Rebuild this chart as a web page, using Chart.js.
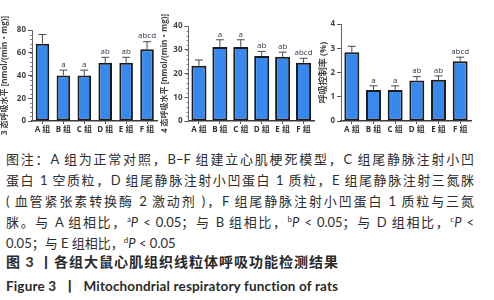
<!DOCTYPE html>
<html><head><meta charset="utf-8">
<script src="https://cdn.jsdelivr.net/npm/chart.js@4.4.1/dist/chart.umd.min.js"></script>
<style>
html,body{margin:0;padding:0;background:#fff;width:494px;height:300px;overflow:hidden;}
canvas{position:absolute;top:0;}
.cap{position:absolute;left:6px;width:468px;font-family:"Lato","Noto Sans CJK SC",sans-serif;color:#2e2e2e;font-size:13px;line-height:21px;}
.cap div{white-space:nowrap;}
.j{text-align:justify;text-align-last:justify;}
.t{position:absolute;left:6px;font-family:"Lato","Noto Sans CJK SC",sans-serif;color:#2a2a2a;font-weight:bold;white-space:nowrap;}
sup{font-size:8px;line-height:0;vertical-align:5px;}
</style></head><body>
<canvas id="c1" width="160" height="140" style="left:0px"></canvas>
<canvas id="c2" width="158" height="140" style="left:160px"></canvas>
<canvas id="c3" width="176" height="140" style="left:318px"></canvas>
<div class="cap" style="top:149px">
<div class="j">图注：A 组为正常对照，B−F 组建立心肌梗死模型，C 组尾静脉注射小凹</div>
<div class="j">蛋白 1 空质粒，D 组尾静脉注射小凹蛋白 1 质粒，E 组尾静脉注射三氮脒</div>
<div class="j">( 血管紧张素转换酶 2 激动剂 )，F 组尾静脉注射小凹蛋白 1 质粒与三氮</div>
<div class="j">脒。与 A 组相比，<sup>a</sup><i>P</i> &lt; 0.05；与 B 组相比，<sup>b</sup><i>P</i> &lt; 0.05；与 D 组相比，<sup>c</sup><i>P</i> &lt;</div>
<div>0.05；与 E 组相比，<sup>d</sup><i>P</i> &lt; 0.05</div>
</div>
<div class="t" style="top:252px;font-size:14px;line-height:20px;letter-spacing:1px">图 3 丨各组大鼠心肌组织线粒体呼吸功能检测结果</div>
<div class="t" style="top:276px;font-size:13.5px;line-height:20px;letter-spacing:0.15px">Figure 3 &nbsp;丨 &nbsp;Mitochondrial respiratory function of rats</div>
<script>
const categories = ['A 组','B 组','C 组','D 组','E 组','F 组'];
const state3 = [68, 40, 40, 51.2, 51.2, 63];
const state3Err = [8, 4.7, 4.7, 4.8, 4.8, 6.7];
const state4 = [23.3, 31.2, 31.2, 27.4, 27.1, 24.5];
const state4Err = [2.4, 3.0, 3.0, 1.9, 1.9, 1.9];
const rcr = [2.83, 1.28, 1.28, 1.67, 1.70, 2.46];
const rcrErr = [0.25, 0.17, 0.17, 0.16, 0.16, 0.17];
const sigLabels = ['', 'a', 'a', 'ab', 'ab', 'abcd'];
const yTitles = ['3 态呼吸水平 [nmol/(min・mg)]', '4 态呼吸水平 [nmol/(min・mg)]', '呼吸控制率 (%)'];

const errPlugin = {
  id: 'errbars',
  afterDatasetsDraw(chart, args, opts) {
    const ctx = chart.ctx, y = chart.scales.y;
    const meta = chart.getDatasetMeta(0);
    ctx.save();
    meta.data.forEach((bar, i) => {
      const v = opts.values[i], e = opts.errs[i];
      const py0 = y.getPixelForValue(v), py1 = y.getPixelForValue(v + e);
      ctx.strokeStyle = '#4a4a4a'; ctx.lineWidth = 1;
      ctx.beginPath();
      ctx.moveTo(bar.x, py0); ctx.lineTo(bar.x, py1);
      ctx.moveTo(bar.x - 4, py1); ctx.lineTo(bar.x + 4, py1);
      ctx.stroke();
      if (opts.labels[i]) {
        ctx.fillStyle = '#2f3b4f';
        ctx.font = '8px "Open Sans", sans-serif';
        ctx.textAlign = 'center'; ctx.textBaseline = 'bottom';
        ctx.fillText(opts.labels[i], bar.x, py1 - 1.5);
      }
    });
    if (opts.minor) {
      ctx.strokeStyle = '#666'; ctx.lineWidth = 0.8;
      const left = chart.chartArea.left;
      for (let t = 0; t <= y.max + 1e-9; t += opts.minor) {
        const py = Math.round(y.getPixelForValue(t)) + 0.5;
        ctx.beginPath(); ctx.moveTo(left - 2, py); ctx.lineTo(left, py); ctx.stroke();
      }
    }
    ctx.restore();
  }
};

function makeChart(id, values, errs, title, titleSize, max, step, minor, yWidth, topPad, rightPad, barPct) {
  return new Chart(document.getElementById(id), {
    type: 'bar',
    data: { labels: categories, datasets: [{ data: values, backgroundColor: '#3789f0', borderColor: '#1c1c1c', borderWidth: 2, borderSkipped: false, barPercentage: barPct, categoryPercentage: 1 }] },
    options: {
      responsive: false, animation: false, devicePixelRatio: 1,
      layout: { padding: { top: topPad, right: rightPad, left: 0, bottom: 0 } },
      plugins: { legend: { display: false }, tooltip: { enabled: false },
        errbars: { values: values, errs: errs, labels: sigLabels, minor: minor } },
      scales: {
        x: {
          grid: { display: true, drawOnChartArea: false, offset: false, tickLength: 3, color: '#555' },
          border: { color: '#3a3a3a', width: 1.5 },
          ticks: { color: '#333', font: { size: 8, weight: 'bold', family: '"Open Sans","Noto Sans CJK SC",sans-serif' }, padding: 1, maxRotation: 0, autoSkip: false },
          afterFit(s) { s.height = 19; }
        },
        y: {
          min: 0, max: max,
          grid: { display: true, drawOnChartArea: false, tickLength: 4, color: '#555' },
          border: { color: '#666', width: 1 },
          ticks: { stepSize: step, color: '#444', font: { size: 8, weight: 'bold', family: '"Open Sans",sans-serif' }, padding: 2 },
          title: { display: true, text: title, color: '#444', font: { size: titleSize, weight: 'bold', family: '"Open Sans","Noto Sans CJK SC",sans-serif' }, padding: 0 },
          afterFit(s) { s.width = yWidth; }
        }
      }
    },
    plugins: [errPlugin]
  });
}

makeChart('c1', state3, state3Err, yTitles[0], 8, 80, 20, 4, 32, 30, 2.5, 0.65);
makeChart('c2', state4, state4Err, yTitles[1], 8, 40, 10, 2, 28.5, 26, 4, 0.72);
makeChart('c3', rcr, rcrErr, yTitles[2], 9, 4, 1, 0, 23, 24, 23, 0.69);
</script>
</body></html>
